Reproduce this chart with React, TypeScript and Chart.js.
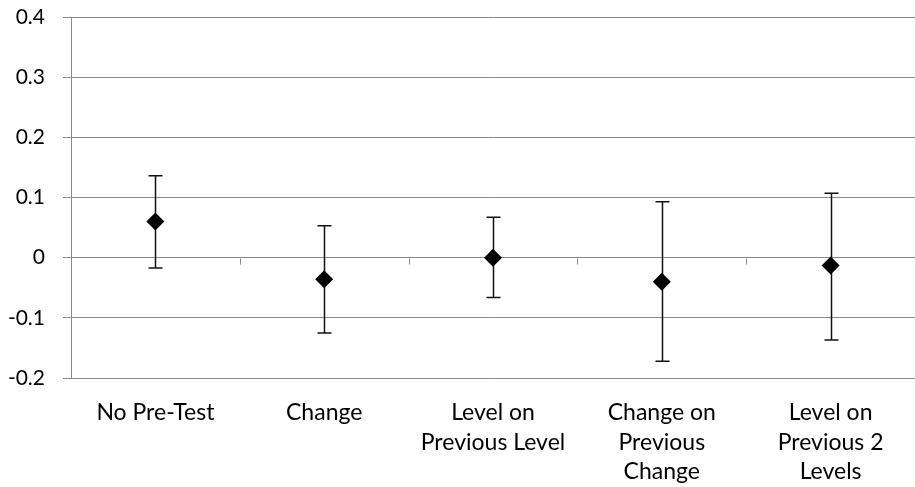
import React, { useEffect, useRef } from "react";
import { Chart, registerables } from "chart.js";

Chart.register(...registerables);

const categories: string[][] = [
  ["No Pre-Test"],
  ["Change"],
  ["Level on", "Previous Level"],
  ["Change on", "Previous", "Change"],
  ["Level on", "Previous 2", "Levels"],
];
const estimates = [0.06, -0.036, 0.0, -0.04, -0.013];
const upperBounds = [0.136, 0.053, 0.067, 0.093, 0.107];
const lowerBounds = [-0.017, -0.125, -0.066, -0.172, -0.137];

const yMin = -0.2;
const yMax = 0.4;
const yStep = 0.1;

const FONT = "Lato, 'Open Sans', sans-serif";

const errorBarPlugin = {
  id: "errorBars",
  beforeDatasetsDraw(chart: any) {
    const { ctx } = chart;
    const x = chart.scales.x;
    const y = chart.scales.y;
    ctx.save();
    // tick marks on the zero line between categories
    ctx.strokeStyle = "#8a8a8a";
    ctx.lineWidth = 1;
    const y0 = Math.round(y.getPixelForValue(0)) + 0.5;
    for (let i = 1; i < categories.length; i++) {
      const px = Math.round(x.getPixelForValue(i - 0.5)) + 0.5;
      ctx.beginPath();
      ctx.moveTo(px, y0);
      ctx.lineTo(px, y0 + 6);
      ctx.stroke();
    }
    // error bars
    ctx.strokeStyle = "#111111";
    ctx.lineWidth = 1.5;
    for (let i = 0; i < estimates.length; i++) {
      const px = Math.round(x.getPixelForValue(i)) + 0.5;
      const pTop = y.getPixelForValue(upperBounds[i]);
      const pBot = y.getPixelForValue(lowerBounds[i]);
      ctx.beginPath();
      ctx.moveTo(px, pTop);
      ctx.lineTo(px, pBot);
      ctx.moveTo(px - 7, pTop);
      ctx.lineTo(px + 7, pTop);
      ctx.moveTo(px - 7, pBot);
      ctx.lineTo(px + 7, pBot);
      ctx.stroke();
    }
    ctx.restore();
  },
};

export default function App() {
  const ref = useRef<HTMLCanvasElement | null>(null);
  useEffect(() => {
    if (!ref.current) return;
    const chart = new Chart(ref.current, {
      type: "line",
      data: {
        labels: categories as any,
        datasets: [
          {
            data: estimates,
            showLine: false,
            pointStyle: "rectRot",
            pointRadius: 9,
            pointHoverRadius: 9,
            backgroundColor: "#000000",
            borderColor: "#000000",
            borderWidth: 0,
            clip: false as any,
          },
        ],
      },
      plugins: [errorBarPlugin],
      options: {
        animation: false,
        responsive: true,
        maintainAspectRatio: false,
        events: [],
        layout: { autoPadding: false, padding: { top: 17, right: 0, bottom: 0, left: 0 } },
        plugins: {
          legend: { display: false },
          tooltip: { enabled: false },
        },
        scales: {
          x: {
            type: "category",
            offset: true,
            grid: { display: false, drawTicks: false },
            border: { display: false },
            ticks: {
              color: "#000000",
              font: { family: FONT, size: 23, lineHeight: 1.28 },
              padding: 20,
              maxRotation: 0,
              autoSkip: false,
            },
            afterFit(scale: any) {
              scale.height = 109;
              scale.paddingLeft = 0;
              scale.paddingRight = 0;
            },
          },
          y: {
            min: yMin,
            max: yMax,
            ticks: {
              stepSize: yStep,
              color: "#000000",
              font: { family: FONT, size: 21 },
              padding: 18,
              callback: (v: any) => {
                const n = Math.round(Number(v) * 10) / 10;
                return n === 0 ? "0" : n.toFixed(1);
              },
            },
            grid: {
              color: "#8a8a8a",
              lineWidth: 1,
              tickLength: 8,
              drawTicks: true,
            },
            border: { display: true, color: "#8a8a8a", width: 1 },
            afterFit(scale: any) {
              scale.width = 71;
              scale.paddingTop = 0;
              scale.paddingBottom = 0;
            },
          },
        },
      },
    });
    return () => chart.destroy();
  }, []);
  return (
    <div style={{ position: "fixed", left: 0, top: 0, width: 915, height: 487, background: "#fff" }}>
      <canvas ref={ref} />
    </div>
  );
}
